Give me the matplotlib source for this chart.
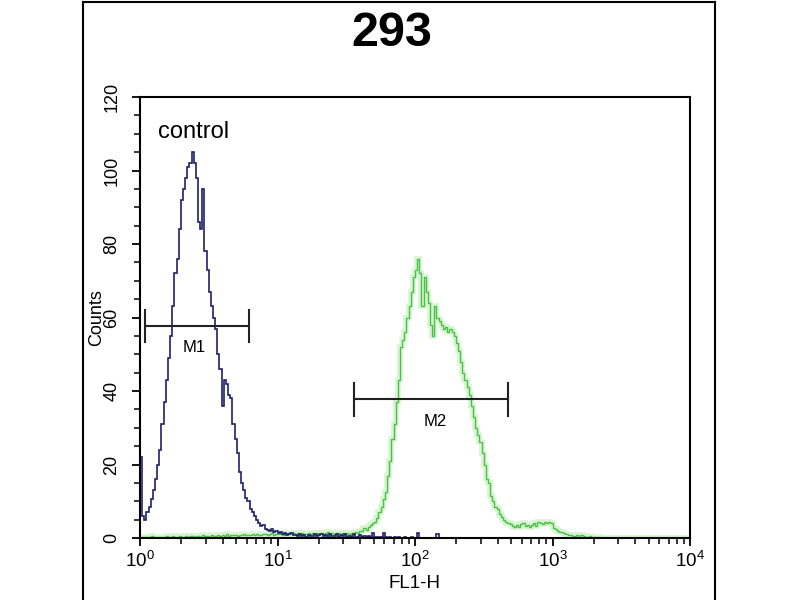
import numpy as np
import matplotlib
matplotlib.use('Agg')
import matplotlib.pyplot as plt
from matplotlib.lines import Line2D
from matplotlib.ticker import LogLocator, FuncFormatter, MultipleLocator

plt.rcParams['font.family'] = ['Liberation Sans', 'DejaVu Sans']
plt.rcParams['mathtext.fontset'] = 'custom'
plt.rcParams['mathtext.rm'] = 'Liberation Sans'
plt.rcParams['mathtext.default'] = 'regular'

# 256 channels over 4 log decades (FL1-H)
n_channels = 256
decades = 4

# control histogram (navy), counts per channel
control = [
    22, 6, 5, 7, 8.5, 10.5, 13, 16, 20, 24,
    31, 37, 43, 49, 55, 63, 72, 76, 84, 92,
    95, 98, 101, 102, 105, 102, 98, 86, 84, 95,
    78, 73, 67, 63, 60, 57, 50, 46, 36, 43,
    42, 39, 38, 31, 27, 23, 18, 15, 13, 11,
    10, 8, 7, 6, 4.8, 4.2, 3.2, 3.6, 2.5, 2.3,
    1.8, 2.4, 1.6, 1.8, 1.4, 1.6, 1.2, 1.3, 0.8, 1.1,
    1.3, 0.7, 0.9, 0.6, 1.0, 0.5, 0.7, 0.4, 0.8, 0.5,
    0.6, 1.0, 0.5, 0.8, 1.2, 0.5, 0.9, 0.4, 1.0, 0.6,
    0.5, 1.1, 0.4, 0.8, 0.5, 1.2, 0.4, 0.6, 0.3, 1.0,
    0.4, 0.3, 0.8, 0.3, 0.5, 0.2, 0.6, 0.3, 1.4, 0.2,
    0.3, 0.2, 0.4, 1.3, 0.2, 0.1, 0.3, 0.1, 0.2, 0.1,
    0.2, 0.1, 0.1, 0.2, 0.1, 0.1, 0.2, 0.1, 0.1, 1.3,
    0.1, 0.1, 0.0, 0.1, 0.0, 0.0, 0.1, 0.0, 1.2, 0.0,
] + [0.0] * 116

# sample histogram (green), counts per channel
sample = [
    0.3, 0.2, 0.4, 0.3, 0.2, 0.5, 0.3, 0.4, 0.2, 0.3,
    0.4, 0.3, 0.5, 0.4, 0.3, 0.6, 0.4, 0.3, 0.5, 0.4,
    0.3, 0.5, 0.4, 0.6, 0.5, 0.4, 0.6, 0.5, 0.4, 0.7,
    0.5, 0.6, 0.4, 0.7, 0.5, 0.6, 0.8, 0.5, 0.7, 0.6,
    1.2, 0.6, 0.8, 0.7, 0.9, 0.6, 0.8, 0.7, 1.0, 0.8,
    0.9, 0.7, 1.0, 0.8, 1.1, 0.9, 0.8, 1.0, 1.2, 0.9,
    1.0, 1.3, 0.9, 1.1, 1.0, 1.2, 0.9, 1.3, 1.1, 1.0,
    1.2, 1.4, 1.0, 1.3, 1.1, 1.5, 1.2, 1.0, 1.4, 1.2,
    1.3, 1.1, 1.5, 1.2, 1.4, 1.0, 1.3, 1.6, 1.1, 1.4,
    1.2, 1.5, 1.3, 1.1, 1.4,
    1.2, 1.5, 1.0, 1.4, 1.3, 1.6, 1.4, 1.9, 2.0, 2.6,
    2.2, 3.0, 3.5, 4.0, 4.4, 5.5, 7.0, 8.5, 10.5, 12.5,
    17, 21, 27, 31, 37, 43, 52, 54, 56, 60,
    63, 67, 71, 73, 76, 72, 63, 71, 67, 64,
    58, 55, 63, 60, 59, 58, 57, 57.5, 56, 57,
    56, 55, 53, 51, 48, 45, 43, 41, 39, 36,
    33, 30, 28, 26, 23, 20, 16, 15, 11.5, 10,
    8.5, 8, 6.5, 5.8, 5, 4.4, 4.0, 3.8, 3.3, 3.1,
    3.5, 3.0, 3.8, 4.0, 3.4, 3.6, 3.1, 3.5, 4.0, 3.2,
    4.4, 4.2, 3.8, 4.4, 4.0, 4.4, 4.2, 2.7, 2.5, 2.0,
    1.7, 1.6, 1.3, 1.0, 0.9, 0.8, 0.6, 0.5, 0.7, 0.4,
    0.8, 0.5, 0.4, 0.3, 0.6, 0.4, 0.2, 0.3, 0.2,
] + [0.0] * 42

# marker gates: (low, high) in FL1-H units and the count level they sit at
m1_range = (1.09, 6.2)
m1_level = 57.7
m2_range = (36.2, 477)
m2_level = 37.7

edges = np.logspace(0, decades, n_channels + 1)

fig = plt.figure(figsize=(8, 6), dpi=100)
ax = fig.add_axes([0.175, 0.1033, 0.6875, 0.735])

# green trace with a soft halo like the scanned original
ax.stairs(sample, edges, baseline=None, color='#c8f0c0', lw=4, alpha=0.7)
ax.stairs(sample, edges, baseline=None, color='#46c246', lw=1.0)
ax.stairs(control, edges, baseline=None, color='#1e206c', lw=1.2)

# gate markers
cap = 4.4
for (lo, hi), lvl in [(m1_range, m1_level), (m2_range, m2_level)]:
    ax.plot([lo, hi], [lvl, lvl], color='#222222', lw=1.5)
    ax.plot([lo, lo], [lvl - cap, lvl + cap], color='#222222', lw=1.5)
    ax.plot([hi, hi], [lvl - cap, lvl + cap], color='#222222', lw=1.5)
ax.text(0.098, 0.431, 'M1', transform=ax.transAxes, fontsize=12,
        ha='center', va='center')
ax.text(0.536, 0.265, 'M2', transform=ax.transAxes, fontsize=12,
        ha='center', va='center')
ax.text(0.032, 0.907, 'control', transform=ax.transAxes, fontsize=17,
        va='baseline')

ax.set_xscale('log')
ax.set_xlim(1, 10 ** decades)
ax.set_ylim(0, 120)
ax.yaxis.set_major_locator(MultipleLocator(20))
ax.yaxis.set_minor_locator(MultipleLocator(5))
ax.xaxis.set_major_locator(LogLocator(base=10, numticks=10))
ax.xaxis.set_minor_locator(LogLocator(base=10, subs=np.arange(2, 10), numticks=10))
ax.xaxis.set_major_formatter(FuncFormatter(lambda v, p: r'$10^{%d}$' % round(np.log10(v))))

for s in ax.spines.values():
    s.set_linewidth(1.5)
ax.tick_params(which='major', direction='out', length=6, width=1.3)
ax.tick_params(which='minor', direction='out', length=4, width=1.1)
ax.tick_params(axis='x', labelsize=13.5, pad=3)
ax.tick_params(axis='y', labelsize=13, labelrotation=90, pad=8)
for lab in ax.get_yticklabels():
    lab.set_va('center')

ax.set_ylabel('Counts', fontsize=13, labelpad=-1)
ax.set_xlabel('FL1-H', fontsize=13.5, labelpad=3)

# outer frame of the panel
fig.add_artist(Line2D([0.104, 0.104], [0, 0.997], transform=fig.transFigure, color='black', lw=1.5))
fig.add_artist(Line2D([0.894, 0.894], [0, 0.997], transform=fig.transFigure, color='black', lw=1.5))
fig.add_artist(Line2D([0.104, 0.894], [0.997, 0.997], transform=fig.transFigure, color='black', lw=1.5))

fig.text(0.49, 0.945, '293', fontsize=35, fontweight='bold', ha='center', va='center')

fig.savefig('out.png', dpi=100)
